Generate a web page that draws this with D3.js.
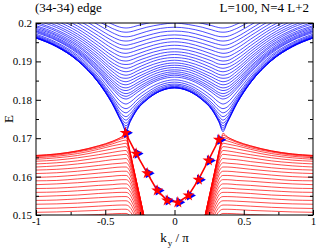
<!DOCTYPE html>
<html>
<head>
<meta charset="utf-8">
<script src="https://cdn.jsdelivr.net/npm/d3@7"></script>
<style>
  body { margin: 0; background: #fff; }
  text { font-family: "Liberation Serif", "Times New Roman", serif; fill: #000; }
</style>
</head>
<body>
<div id="chart"></div>
<script>
// k_y / pi grid for the right half (bands are symmetric, mirrored to k < 0)
var blueK = [0, 0.1, 0.2, 0.27, 0.32, 0.35, 0.38, 0.45, 0.55, 0.7, 0.85, 1.0];
var blueBands = [
  [0.1831, 0.1823, 0.1800, 0.1774, 0.1743, 0.1717, 0.1740, 0.1790, 0.1845, 0.1902, 0.1938, 0.1961],
  [0.1831, 0.1823, 0.1800, 0.1774, 0.1743, 0.1721, 0.1740, 0.1790, 0.1845, 0.1902, 0.1938, 0.1961],
  [0.1831, 0.1823, 0.1800, 0.1775, 0.1745, 0.1726, 0.1742, 0.1791, 0.1845, 0.1902, 0.1938, 0.1961],
  [0.1832, 0.1824, 0.1801, 0.1776, 0.1747, 0.1732, 0.1744, 0.1792, 0.1846, 0.1903, 0.1939, 0.1961],
  [0.1833, 0.1825, 0.1803, 0.1778, 0.1751, 0.1739, 0.1749, 0.1793, 0.1847, 0.1903, 0.1939, 0.1962],
  [0.1835, 0.1827, 0.1805, 0.1781, 0.1757, 0.1747, 0.1755, 0.1796, 0.1848, 0.1904, 0.1940, 0.1963],
  [0.1838, 0.1830, 0.1809, 0.1786, 0.1764, 0.1756, 0.1762, 0.1800, 0.1851, 0.1906, 0.1941, 0.1964],
  [0.1841, 0.1834, 0.1813, 0.1792, 0.1773, 0.1766, 0.1771, 0.1805, 0.1854, 0.1908, 0.1943, 0.1966],
  [0.1846, 0.1839, 0.1819, 0.1800, 0.1782, 0.1777, 0.1781, 0.1811, 0.1858, 0.1912, 0.1946, 0.1968],
  [0.1852, 0.1845, 0.1827, 0.1809, 0.1794, 0.1789, 0.1793, 0.1820, 0.1864, 0.1916, 0.1949, 0.1971],
  [0.1859, 0.1853, 0.1836, 0.1819, 0.1806, 0.1802, 0.1805, 0.1829, 0.1871, 0.1921, 0.1954, 0.1975],
  [0.1864, 0.1857, 0.1841, 0.1825, 0.1813, 0.1809, 0.1812, 0.1834, 0.1875, 0.1924, 0.1956, 0.1978],
  [0.1868, 0.1862, 0.1846, 0.1831, 0.1819, 0.1816, 0.1819, 0.1840, 0.1879, 0.1927, 0.1959, 0.1980],
  [0.1873, 0.1867, 0.1852, 0.1838, 0.1827, 0.1824, 0.1826, 0.1846, 0.1884, 0.1930, 0.1962, 0.1983],
  [0.1878, 0.1873, 0.1858, 0.1844, 0.1834, 0.1831, 0.1833, 0.1852, 0.1888, 0.1934, 0.1966, 0.1986],
  [0.1884, 0.1879, 0.1865, 0.1852, 0.1842, 0.1839, 0.1841, 0.1859, 0.1894, 0.1939, 0.1969, 0.1990],
  [0.1890, 0.1885, 0.1871, 0.1859, 0.1850, 0.1847, 0.1849, 0.1866, 0.1899, 0.1943, 0.1973, 0.1993],
  [0.1896, 0.1891, 0.1878, 0.1867, 0.1858, 0.1856, 0.1857, 0.1874, 0.1906, 0.1948, 0.1978, 0.1998],
  [0.1903, 0.1898, 0.1886, 0.1875, 0.1866, 0.1864, 0.1866, 0.1881, 0.1912, 0.1953, 0.1982, 0.2002],
  [0.1910, 0.1906, 0.1894, 0.1883, 0.1875, 0.1873, 0.1875, 0.1889, 0.1919, 0.1959, 0.1988, 0.2007],
  [0.1918, 0.1913, 0.1902, 0.1892, 0.1884, 0.1882, 0.1884, 0.1897, 0.1926, 0.1965, 0.1993, 0.2012],
  [0.1925, 0.1921, 0.1910, 0.1901, 0.1893, 0.1892, 0.1893, 0.1906, 0.1933, 0.1971, 0.1999, 0.2017],
  [0.1933, 0.1929, 0.1919, 0.1910, 0.1903, 0.1901, 0.1902, 0.1915, 0.1941, 0.1978, 0.2005, 0.2023],
  [0.1942, 0.1938, 0.1928, 0.1919, 0.1913, 0.1911, 0.1912, 0.1924, 0.1949, 0.1985, 0.2011, 0.2029],
  [0.1951, 0.1947, 0.1937, 0.1929, 0.1923, 0.1921, 0.1922, 0.1934, 0.1958, 0.1992, 0.2018, 0.2035],
  [0.1960, 0.1956, 0.1947, 0.1939, 0.1933, 0.1932, 0.1933, 0.1944, 0.1967, 0.2000, 0.2025, 0.2042],
  [0.1969, 0.1966, 0.1957, 0.1949, 0.1944, 0.1942, 0.1943, 0.1954, 0.1976, 0.2008, 0.2032, 0.2049],
  [0.1979, 0.1976, 0.1967, 0.1960, 0.1954, 0.1953, 0.1954, 0.1964, 0.1985, 0.2017, 0.2040, 0.2056],
  [0.1989, 0.1986, 0.1978, 0.1970, 0.1965, 0.1964, 0.1965, 0.1975, 0.1995, 0.2026, 0.2048, 0.2064],
  [0.2000, 0.1996, 0.1989, 0.1982, 0.1977, 0.1976, 0.1977, 0.1986, 0.2005, 0.2035, 0.2057, 0.2072],
  [0.2010, 0.2007, 0.1999, 0.1993, 0.1988, 0.1987, 0.1988, 0.1997, 0.2016, 0.2043, 0.2063, 0.2077]
];

var redK = [0.2, 0.25, 0.3, 0.33, 0.35, 0.38, 0.45, 0.55, 0.7, 0.85, 1.0];
var redBands = [
  [0.1464, 0.1547, 0.1630, 0.1680, 0.1713, 0.1704, 0.1692, 0.1680, 0.1667, 0.1659, 0.1655],
  [0.1464, 0.1547, 0.1630, 0.1680, 0.1708, 0.1703, 0.1691, 0.1680, 0.1667, 0.1659, 0.1655],
  [0.1464, 0.1547, 0.1629, 0.1678, 0.1702, 0.1699, 0.1689, 0.1678, 0.1666, 0.1658, 0.1654],
  [0.1463, 0.1546, 0.1628, 0.1675, 0.1695, 0.1693, 0.1685, 0.1675, 0.1664, 0.1656, 0.1652],
  [0.1463, 0.1545, 0.1626, 0.1671, 0.1687, 0.1685, 0.1680, 0.1671, 0.1660, 0.1653, 0.1649],
  [0.1462, 0.1543, 0.1623, 0.1665, 0.1678, 0.1677, 0.1672, 0.1665, 0.1655, 0.1649, 0.1645],
  [0.1460, 0.1541, 0.1619, 0.1657, 0.1668, 0.1667, 0.1663, 0.1657, 0.1649, 0.1643, 0.1640],
  [0.1458, 0.1538, 0.1613, 0.1649, 0.1658, 0.1657, 0.1654, 0.1649, 0.1641, 0.1636, 0.1633],
  [0.1455, 0.1534, 0.1607, 0.1639, 0.1647, 0.1646, 0.1644, 0.1639, 0.1633, 0.1628, 0.1625],
  [0.1452, 0.1530, 0.1600, 0.1629, 0.1636, 0.1635, 0.1633, 0.1629, 0.1623, 0.1619, 0.1617],
  [0.1449, 0.1525, 0.1592, 0.1619, 0.1625, 0.1625, 0.1623, 0.1619, 0.1614, 0.1610, 0.1608],
  [0.1445, 0.1520, 0.1584, 0.1609, 0.1614, 0.1614, 0.1612, 0.1609, 0.1604, 0.1600, 0.1598],
  [0.1441, 0.1514, 0.1575, 0.1598, 0.1603, 0.1603, 0.1601, 0.1598, 0.1594, 0.1590, 0.1589],
  [0.1436, 0.1508, 0.1566, 0.1588, 0.1592, 0.1592, 0.1590, 0.1588, 0.1584, 0.1581, 0.1579],
  [0.1431, 0.1501, 0.1557, 0.1577, 0.1581, 0.1581, 0.1579, 0.1577, 0.1573, 0.1570, 0.1569],
  [0.1426, 0.1494, 0.1548, 0.1566, 0.1570, 0.1570, 0.1568, 0.1566, 0.1563, 0.1560, 0.1559],
  [0.1420, 0.1487, 0.1538, 0.1556, 0.1559, 0.1559, 0.1558, 0.1556, 0.1552, 0.1550, 0.1548],
  [0.1414, 0.1479, 0.1528, 0.1545, 0.1548, 0.1548, 0.1547, 0.1545, 0.1542, 0.1539, 0.1538],
  [0.1408, 0.1471, 0.1518, 0.1534, 0.1537, 0.1537, 0.1536, 0.1534, 0.1531, 0.1529, 0.1528],
  [0.1402, 0.1463, 0.1508, 0.1523, 0.1526, 0.1526, 0.1525, 0.1523, 0.1520, 0.1518, 0.1517],
  [0.1395, 0.1455, 0.1498, 0.1512, 0.1515, 0.1515, 0.1514, 0.1512, 0.1510, 0.1508, 0.1507],
  [0.1388, 0.1446, 0.1488, 0.1501, 0.1504, 0.1504, 0.1503, 0.1501, 0.1499, 0.1497, 0.1496]
];

// edge state
var edgeK = [-0.354, -0.277, -0.197, -0.125, -0.053, 0.024, 0.101, 0.173, 0.245, 0.32];
var edgeE = [0.1714, 0.1660, 0.1609, 0.1564, 0.1538, 0.1533, 0.1551, 0.1592, 0.1642, 0.1696];

var xTicks = [-1, -0.5, 0, 0.5, 1];
var xMinor = [-0.75, -0.25, 0.25, 0.75];
var yTicks = [0.15, 0.16, 0.17, 0.18, 0.19, 0.2];
var yMinor = [0.155, 0.165, 0.175, 0.185, 0.195];

// set the dimensions and margins of the graph
var margin = { top: 23, right: 3, bottom: 35, left: 36 },
    width = 316 - margin.left - margin.right,
    height = 250 - margin.top - margin.bottom;

var svgRoot = d3.select("#chart")
  .append("svg")
  .attr("width", 316)
  .attr("height", 250);

var svg = svgRoot.append("g")
  .attr("transform", "translate(" + margin.left + "," + margin.top + ")");

var x = d3.scaleLinear().domain([-1, 1]).range([0, width]);
var y = d3.scaleLinear().domain([0.15, 0.2]).range([height, 0]);

svg.append("clipPath").attr("id", "plotClip")
  .append("rect").attr("width", width).attr("height", height);

var plot = svg.append("g").attr("clip-path", "url(#plotClip)");

var line = d3.line()
  .x(function(d) { return x(d[0]); })
  .y(function(d) { return y(d[1]); })
  .curve(d3.curveMonotoneX);

// blue bands: mirror the right half to k<0
blueBands.forEach(function(band) {
  var pts = [];
  for (var i = blueK.length - 1; i > 0; i--) pts.push([-blueK[i], band[i]]);
  for (var j = 0; j < blueK.length; j++) pts.push([blueK[j], band[j]]);
  plot.append("path")
    .attr("d", line(pts))
    .attr("fill", "none")
    .attr("stroke", "#0000ff")
    .attr("stroke-width", 0.7);
});

// red bands: separate branches on each side
redBands.forEach(function(band) {
  var right = redK.map(function(k, i) { return [k, band[i]]; });
  var left = redK.map(function(k, i) { return [-k, band[i]]; }).reverse();
  [left, right].forEach(function(pts) {
    plot.append("path")
      .attr("d", line(pts))
      .attr("fill", "none")
      .attr("stroke", "#ff0000")
      .attr("stroke-width", 0.7);
  });
});

// edge state line + markers
var edgePts = edgeK.map(function(k, i) { return [k, edgeE[i]]; });
plot.append("path")
  .attr("d", d3.line().x(function(d) { return x(d[0]); }).y(function(d) { return y(d[1]); })(edgePts))
  .attr("fill", "none")
  .attr("stroke", "#ff0000")
  .attr("stroke-width", 1.6);

plot.selectAll(".tri")
  .data(edgePts)
  .enter()
  .append("path")
  .attr("class", "tri")
  .attr("d", d3.symbol().type(d3.symbolTriangle).size(46))
  .attr("transform", function(d) { return "translate(" + (x(d[0]) + 1.5) + "," + y(d[1]) + ") rotate(90)"; })
  .attr("fill", "#0000ff");

plot.selectAll(".star")
  .data(edgePts)
  .enter()
  .append("path")
  .attr("class", "star")
  .attr("d", d3.symbol().type(d3.symbolStar).size(44))
  .attr("transform", function(d) { return "translate(" + x(d[0]) + "," + y(d[1]) + ")"; })
  .attr("fill", "#ff0000");

// axes (ticks point inwards, on all four sides)
function styleAxis(g) {
  g.select(".domain").remove();
  g.selectAll("line").attr("stroke", "#000");
  g.selectAll("text").attr("font-size", "11px").attr("font-family", "Liberation Serif, serif");
}

svg.append("g")
  .attr("transform", "translate(0," + height + ")")
  .call(d3.axisBottom(x).tickValues(xTicks).tickSize(-5).tickPadding(2)
    .tickFormat(function(d) { return String(d); }))
  .call(styleAxis);
svg.append("g")
  .attr("transform", "translate(0," + height + ")")
  .call(d3.axisBottom(x).tickValues(xMinor).tickSize(-3).tickFormat(""))
  .call(styleAxis);
svg.append("g")
  .call(d3.axisTop(x).tickValues(xTicks).tickSize(-5).tickFormat(""))
  .call(styleAxis);
svg.append("g")
  .call(d3.axisTop(x).tickValues(xMinor).tickSize(-3).tickFormat(""))
  .call(styleAxis);

svg.append("g")
  .call(d3.axisLeft(y).tickValues(yTicks).tickSize(-5).tickPadding(4)
    .tickFormat(function(d) { return String(d); }))
  .call(styleAxis);
svg.append("g")
  .call(d3.axisLeft(y).tickValues(yMinor).tickSize(-3).tickFormat(""))
  .call(styleAxis);
svg.append("g")
  .attr("transform", "translate(" + width + ",0)")
  .call(d3.axisRight(y).tickValues(yTicks).tickSize(-5).tickFormat(""))
  .call(styleAxis);
svg.append("g")
  .attr("transform", "translate(" + width + ",0)")
  .call(d3.axisRight(y).tickValues(yMinor).tickSize(-3).tickFormat(""))
  .call(styleAxis);

// frame
svg.append("rect")
  .attr("width", width)
  .attr("height", height)
  .attr("fill", "none")
  .attr("stroke", "#000")
  .attr("stroke-width", 1);

// axis titles
svgRoot.append("text")
  .attr("transform", "translate(13," + (margin.top + height / 2) + ") rotate(-90)")
  .attr("text-anchor", "middle")
  .attr("font-size", "13px")
  .text("E");

var xt = svgRoot.append("text")
  .attr("x", margin.left + width / 2)
  .attr("y", 242)
  .attr("text-anchor", "middle")
  .attr("font-size", "13px");
xt.append("tspan").text("k");
xt.append("tspan").attr("font-size", "9px").attr("dy", 4).attr("dx", 1).text("y");
xt.append("tspan").attr("dy", -4).text(" / π");

// top texts
svgRoot.append("text")
  .attr("x", 35)
  .attr("y", 12)
  .attr("font-size", "13px")
  .text("(34-34) edge");

svgRoot.append("text")
  .attr("x", 309)
  .attr("y", 12)
  .attr("text-anchor", "end")
  .attr("font-size", "13px")
  .text("L=100, N=4 L+2");
</script>
</body>
</html>
